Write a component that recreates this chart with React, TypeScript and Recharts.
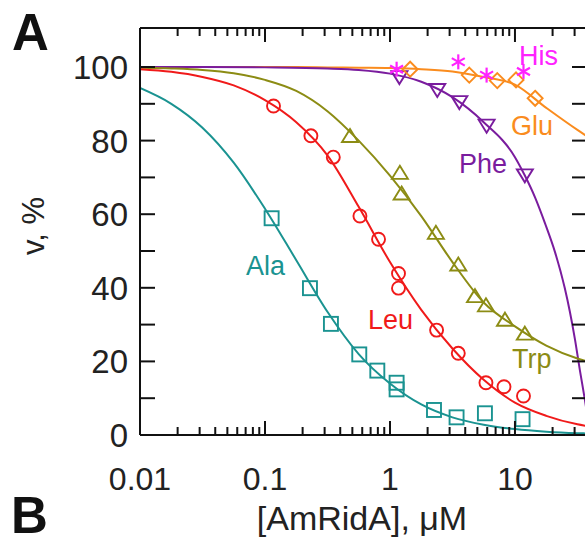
import React from 'react';
import { ComposedChart, Line, Scatter, XAxis, YAxis } from 'recharts';

const FONT = '"Liberation Sans", Arial, Helvetica, sans-serif';

const xMin = 0.01;
const xMax = 37.7;
const yMax = 110.6;

const xTicks = [0.01, 0.02, 0.03, 0.04, 0.05, 0.06, 0.07, 0.08, 0.09, 0.1, 0.2, 0.3, 0.4, 0.5, 0.6, 0.7, 0.8, 0.9, 1, 2, 3, 4, 5, 6, 7, 8, 9, 10, 20, 30];
const xMajor = [0.01, 0.1, 1, 10];
const xMajorLabels = ['0.01', '0.1', '1', '10'];
const yTicks = [0, 10, 20, 30, 40, 50, 60, 70, 80, 90, 100];
const yLabelled = [0, 20, 40, 60, 80, 100];

// fitted curves
const curveX = [0.01, 0.0178, 0.0316, 0.0562, 0.1, 0.178, 0.316, 0.562, 1, 1.78, 3.16, 5.62, 10, 17.8, 31.6, 40];
const alaCurve = [94.3, 90, 83.5, 74, 61.5, 47.5, 33.5, 22, 14, 8.3, 4.8, 2.8, 1.6, 0.9, 0.5, 0.4];
const leuCurve = [99.4, 98.7, 97.3, 95, 91, 85, 76, 62, 47, 34, 23.5, 15, 8.8, 5.2, 2.9, 2.3];
const trpCurve = [99.8, 99.6, 99.2, 98.3, 96.5, 93.5, 88, 80, 70.5, 59.5, 47, 36, 29.5, 24.3, 20.8, 19.8];
const gluCurve = [100, 100, 100, 100, 100, 100, 99.9, 99.8, 99.7, 99.4, 98.8, 97.3, 95.2, 88.9, 82.9, 80.6];
const pheCurveX = [0.01, 0.0316, 0.1, 0.316, 0.562, 1, 1.78, 3.16, 5.62, 10, 12, 14.5, 17.4, 21, 25, 27.5, 30.2, 33.1, 36.3, 40];
const pheCurve = [100, 100, 99.9, 99.6, 99.2, 98.2, 96, 91.8, 85, 75.5, 70.5, 64.5, 57.5, 49.5, 40, 33.5, 26, 17.5, 9.5, 0.3];

// measured points
const alaX = [0.113, 0.229, 0.337, 0.568, 0.792, 1.13, 1.13, 2.25, 3.41, 5.75, 11.5];
const alaY = [58.9, 39.9, 30.2, 21.9, 17.5, 14.2, 12.4, 6.8, 4.8, 5.9, 4.3];
const leuX = [0.117, 0.233, 0.352, 0.575, 0.81, 1.17, 1.17, 2.36, 3.52, 5.86, 8.17, 11.7];
const leuY = [89.4, 81.3, 75.5, 59.5, 53.2, 43.9, 39.9, 28.5, 22.2, 14.2, 13.1, 10.6];
const trpX = [0.479, 1.2, 1.24, 2.33, 3.52, 4.79, 5.86, 8.32, 12.0];
const trpY = [81.1, 71.1, 65.5, 54.8, 46.2, 37.6, 35.1, 31.2, 27.4];
const pheX = [1.19, 2.39, 3.59, 5.93, 12.0];
const pheY = [97.4, 93.9, 90.6, 84.2, 70.7];
const gluX = [1.45, 4.31, 7.22, 10.2, 14.5];
const gluY = [99.4, 97.8, 96.3, 96.5, 91.5];
const hisX = [1.13, 3.52, 5.93, 11.7];
const hisY = [99.4, 101.4, 97.8, 98.8];

const C = {
  ala: '#1a9391',
  leu: '#f01a1a',
  trp: '#8c8c14',
  phe: '#7a1c9e',
  glu: '#fa8c1e',
  his: '#ff22ff',
  axis: '#111111',
};

const zip = (xs: number[], ys: number[]) => xs.map((x, i) => ({ x, y: ys[i] }));

type MK = 'square' | 'circle' | 'up' | 'down' | 'diamond' | 'star';

const Marker = ({ kind, color, cx, cy }: { kind: MK; color: string; cx: number; cy: number }) => {
  const sw = 1.9;
  if (cx == null || cy == null || isNaN(cx) || isNaN(cy)) return null;
  switch (kind) {
    case 'square':
      return <rect x={cx - 7} y={cy - 7} width={14} height={14} fill="none" stroke={color} strokeWidth={sw} />;
    case 'circle':
      return <circle cx={cx} cy={cy} r={6.5} fill="none" stroke={color} strokeWidth={sw} />;
    case 'up':
      return <polygon points={`${cx},${cy - 7.5} ${cx + 8},${cy + 5.5} ${cx - 8},${cy + 5.5}`} fill="none" stroke={color} strokeWidth={sw} />;
    case 'down':
      return <polygon points={`${cx},${cy + 7.5} ${cx + 8},${cy - 5.5} ${cx - 8},${cy - 5.5}`} fill="none" stroke={color} strokeWidth={sw} />;
    case 'diamond':
      return <polygon points={`${cx},${cy - 7.5} ${cx + 7.5},${cy} ${cx},${cy + 7.5} ${cx - 7.5},${cy}`} fill="none" stroke={color} strokeWidth={sw} />;
    case 'star': {
      const r = 7.5;
      const a = Math.cos(Math.PI / 6) * r;
      const b = Math.sin(Math.PI / 6) * r;
      return (
        <g stroke={color} strokeWidth={2.2} strokeLinecap="butt">
          <line x1={cx} y1={cy - r} x2={cx} y2={cy + r} />
          <line x1={cx - a} y1={cy - b} x2={cx + a} y2={cy + b} />
          <line x1={cx - a} y1={cy + b} x2={cx + a} y2={cy - b} />
        </g>
      );
    }
  }
  return null;
};

const shapeOf = (kind: MK, color: string) => (p: any) => <Marker kind={kind} color={color} cx={p.cx} cy={p.cy} />;

const isMajor = (v: number) => xMajor.some((m) => Math.abs(m - v) < 1e-9);
const majorLabel = (v: number) => {
  const i = xMajor.findIndex((m) => Math.abs(m - v) < 1e-9);
  return i >= 0 ? xMajorLabels[i] : '';
};

const BottomTick = (p: any) => {
  const v = p.payload.value;
  const major = isMajor(v);
  return (
    <g>
      <line x1={p.x} x2={p.x} y1={p.y} y2={p.y - (major ? 14 : 8)} stroke={C.axis} strokeWidth={2} />
      {major && (
        <text x={p.x} y={p.y + 55} textAnchor="middle" fontSize={32} fontFamily={FONT} fill="#222">
          {majorLabel(v)}
        </text>
      )}
    </g>
  );
};

const TopTick = (p: any) => {
  const v = p.payload.value;
  const major = isMajor(v);
  return <line x1={p.x} x2={p.x} y1={p.y} y2={p.y + (major ? 14 : 8)} stroke={C.axis} strokeWidth={2} />;
};

const LeftTick = (p: any) => {
  const v = p.payload.value;
  return (
    <g>
      <line x1={p.x} x2={p.x + 15} y1={p.y} y2={p.y} stroke={C.axis} strokeWidth={2} />
      {yLabelled.includes(v) && (
        <text x={p.x - 12} y={p.y + 12} textAnchor="end" fontSize={33} fontFamily={FONT} fill="#222">
          {v}
        </text>
      )}
    </g>
  );
};

const RightTick = (p: any) => <line x1={p.x} x2={p.x - 15} y1={p.y} y2={p.y} stroke={C.axis} strokeWidth={2} />;

export default function App() {
  const lineProps = { type: 'monotone' as const, dataKey: 'y', dot: false, strokeWidth: 2, isAnimationActive: false, activeDot: false };
  return (
    <div style={{ position: 'absolute', left: 0, top: 0, width: 585, height: 544, overflow: 'hidden', background: '#fff' }}>
      <ComposedChart width={588} height={544} margin={{ top: 27, right: 0, bottom: 0, left: 0 }}>
        <XAxis
          xAxisId="b"
          dataKey="x"
          type="number"
          scale="log"
          domain={[xMin, xMax]}
          allowDataOverflow
          ticks={xTicks}
          interval={0}
          orientation="bottom"
          height={109}
          tickSize={0}
          tickMargin={0}
          tickLine={false}
          axisLine={{ stroke: C.axis, strokeWidth: 2 }}
          tick={BottomTick}
        />
        <XAxis
          xAxisId="t"
          dataKey="x"
          type="number"
          scale="log"
          domain={[xMin, xMax]}
          allowDataOverflow
          ticks={xTicks}
          interval={0}
          orientation="top"
          height={1}
          tickSize={0}
          tickMargin={0}
          tickLine={false}
          axisLine={{ stroke: C.axis, strokeWidth: 2 }}
          tick={TopTick}
        />
        <YAxis
          yAxisId="l"
          dataKey="y"
          type="number"
          domain={[0, yMax]}
          allowDataOverflow
          ticks={yTicks}
          interval={0}
          orientation="left"
          width={140}
          tickSize={0}
          tickMargin={0}
          tickLine={false}
          axisLine={{ stroke: C.axis, strokeWidth: 2 }}
          tick={LeftTick}
        />
        <YAxis
          yAxisId="r"
          dataKey="y"
          type="number"
          domain={[0, yMax]}
          allowDataOverflow
          ticks={yTicks}
          interval={0}
          orientation="right"
          width={1}
          tickSize={0}
          tickMargin={0}
          tickLine={false}
          axisLine={{ stroke: C.axis, strokeWidth: 2 }}
          tick={RightTick}
        />

        <Line {...lineProps} xAxisId="b" yAxisId="l" data={zip(curveX, gluCurve)} stroke={C.glu} />
        <Line {...lineProps} xAxisId="b" yAxisId="l" data={zip(pheCurveX, pheCurve)} stroke={C.phe} />
        <Line {...lineProps} xAxisId="b" yAxisId="l" data={zip(curveX, trpCurve)} stroke={C.trp} />
        <Line {...lineProps} xAxisId="b" yAxisId="l" data={zip(curveX, leuCurve)} stroke={C.leu} />
        <Line {...lineProps} xAxisId="b" yAxisId="l" data={zip(curveX, alaCurve)} stroke={C.ala} />

        <Scatter xAxisId="b" yAxisId="l" data={zip(alaX, alaY)} shape={shapeOf('square', C.ala)} isAnimationActive={false} />
        <Scatter xAxisId="b" yAxisId="l" data={zip(leuX, leuY)} shape={shapeOf('circle', C.leu)} isAnimationActive={false} />
        <Scatter xAxisId="b" yAxisId="l" data={zip(trpX, trpY)} shape={shapeOf('up', C.trp)} isAnimationActive={false} />
        <Scatter xAxisId="b" yAxisId="l" data={zip(pheX, pheY)} shape={shapeOf('down', C.phe)} isAnimationActive={false} />
        <Scatter xAxisId="b" yAxisId="l" data={zip(gluX, gluY)} shape={shapeOf('diamond', C.glu)} isAnimationActive={false} />
        <Scatter xAxisId="b" yAxisId="l" data={zip(hisX, hisY)} shape={shapeOf('star', C.his)} isAnimationActive={false} />
      </ComposedChart>

      <svg width={585} height={544} style={{ position: 'absolute', left: 0, top: 0, pointerEvents: 'none' }}>
        <g fontFamily={FONT}>
          <text x={12} y={50} fontSize={51} fontWeight="bold" fill="#111">A</text>
          <text x={11} y={533} fontSize={51} fontWeight="bold" fill="#111">B</text>
          <text transform="translate(44,226) rotate(-90)" textAnchor="middle" fontSize={31} fill="#222">v, %</text>
          <text x={362} y={530} textAnchor="middle" fontSize={34} fill="#222">[AmRidA], μM</text>
          <text x={519} y={65} fontSize={27} fill={C.his}>His</text>
          <text x={511} y={135} fontSize={27} fill={C.glu}>Glu</text>
          <text x={459} y={173} fontSize={27} fill={C.phe}>Phe</text>
          <text x={246} y={275} fontSize={27} fill={C.ala}>Ala</text>
          <text x={368} y={329} fontSize={27} fill={C.leu}>Leu</text>
          <text x={512} y={368} fontSize={27} fill={C.trp}>Trp</text>
        </g>
      </svg>
    </div>
  );
}
